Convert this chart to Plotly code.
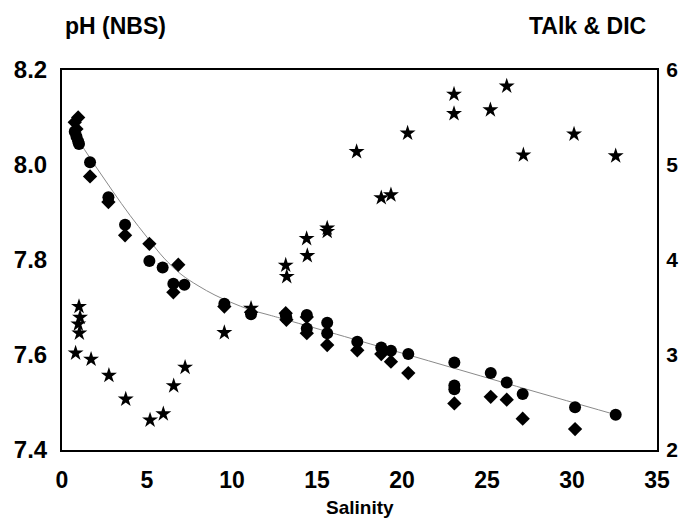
import plotly.graph_objects as go

# pH (NBS), left axis (stars)
ph_sal = [1.0, 1.06, 0.96, 1.02, 0.8, 1.71, 2.76, 3.75, 5.18, 5.96, 6.57, 7.24, 9.55, 11.12,
          13.16, 13.22, 14.39, 14.43, 15.6, 15.6, 17.33, 18.78, 19.35, 20.33, 23.06, 23.06,
          25.2, 26.16, 27.14, 30.12, 32.57]
ph_val = [7.702, 7.679, 7.665, 7.646, 7.604, 7.591, 7.557, 7.507, 7.463, 7.476, 7.535, 7.574,
          7.647, 7.698, 7.789, 7.765, 7.845, 7.809, 7.867, 7.860, 8.028, 7.931, 7.937, 8.067,
          8.149, 8.108, 8.116, 8.166, 8.021, 8.065, 8.019]

# TAlk (circles), right axis
talk_sal = [0.75, 0.85, 0.95, 1.0, 1.65, 2.73, 3.71, 5.14, 5.92, 6.55, 7.2, 9.55, 11.12, 13.16,
            13.2, 14.4, 14.4, 15.6, 15.6, 17.37, 18.78, 19.35, 20.37, 23.08, 23.08, 23.08,
            25.22, 26.16, 27.1, 30.18, 32.57]
talk_val = [5.35, 5.3, 5.25, 5.22, 5.03, 4.66, 4.37, 3.99, 3.92, 3.75, 3.74, 3.54, 3.43, 3.42,
            3.39, 3.42, 3.28, 3.34, 3.23, 3.14, 3.08, 3.045, 3.01, 2.92, 2.68, 2.64,
            2.81, 2.71, 2.59, 2.45, 2.37]

# DIC (diamonds), right axis
dic_sal = [0.95, 0.75, 0.85, 1.65, 2.73, 3.71, 5.14, 6.84, 6.55, 9.55, 11.12, 13.16, 13.2,
           14.4, 14.4, 15.6, 17.37, 18.78, 19.35, 20.37, 23.08, 25.22, 26.16, 27.1, 30.18]
dic_val = [5.5, 5.45, 5.38, 4.88, 4.61, 4.26, 4.17, 3.95, 3.66, 3.51, 3.45, 3.44, 3.37,
           3.40, 3.23, 3.105, 3.05, 3.01, 2.93, 2.81, 2.49, 2.56, 2.53, 2.33, 2.22]

# fitted mixing curve (right axis)
fit_sal = [1.0, 2.0, 3.0, 4.0, 5.0, 6.0, 7.0, 8.0, 9.0, 10.0, 11.0, 12.0, 13.0, 20.0, 26.16, 32.6]
fit_val = [5.25, 4.98, 4.72, 4.47, 4.24, 4.02, 3.85, 3.73, 3.63, 3.55, 3.48, 3.43, 3.38,
           3.02, 2.70, 2.37]

x_ticks = [0, 5, 10, 15, 20, 25, 30, 35]
ph_ticks = [7.4, 7.6, 7.8, 8.0, 8.2]
ph_ticktext = ["7.4", "7.6", "7.8", "8.0", "8.2"]
alk_ticks = [2, 3, 4, 5, 6]

FONT = "Liberation Sans, Arial, sans-serif"

fig = go.Figure()
fig.add_trace(go.Scatter(x=fit_sal, y=fit_val, yaxis="y2", mode="lines",
                         line=dict(color="#8a8a8a", width=1, shape="spline"),
                         showlegend=False, hoverinfo="skip"))
fig.add_trace(go.Scatter(x=talk_sal, y=talk_val, yaxis="y2", mode="markers",
                         marker=dict(symbol="circle", size=12, color="black"),
                         showlegend=False))
fig.add_trace(go.Scatter(x=dic_sal, y=dic_val, yaxis="y2", mode="markers",
                         marker=dict(symbol="diamond", size=11, color="black"),
                         showlegend=False))
fig.add_trace(go.Scatter(x=ph_sal, y=ph_val, yaxis="y", mode="markers",
                         marker=dict(symbol="star", size=12, color="black"),
                         showlegend=False))

fig.update_layout(
    width=687, height=511,
    margin=dict(l=54, r=38, t=62, b=69, autoexpand=False),
    paper_bgcolor="white", plot_bgcolor="white",
    font=dict(family=FONT, color="black"),
    xaxis=dict(range=[0, 35], tickvals=x_ticks, showgrid=False, zeroline=False,
               showline=True, linecolor="black", linewidth=2, mirror=True,
               ticks="", ticklabelstandoff=8,
               tickfont=dict(family=FONT, size=23, weight="bold", color="black")),
    yaxis=dict(range=[7.4, 8.2], tickvals=ph_ticks, ticktext=ph_ticktext,
               showgrid=False, zeroline=False,
               showline=True, linecolor="black", linewidth=2,
               ticks="", ticklabelstandoff=8,
               tickfont=dict(family=FONT, size=24, weight="bold", color="black")),
    yaxis2=dict(range=[2, 6], tickvals=alk_ticks, overlaying="y", side="right",
                showgrid=False, zeroline=False,
                showline=True, linecolor="black", linewidth=2,
                ticks="", ticklabelstandoff=3,
                tickfont=dict(family=FONT, size=21, weight="bold", color="black")),
    annotations=[
        dict(text="pH (NBS)", xref="paper", yref="paper", x=0.002, y=1.1158,
             xanchor="left", yanchor="middle", showarrow=False,
             font=dict(family=FONT, size=23, weight="bold", color="black")),
        dict(text="TAlk & DIC", xref="paper", yref="paper", x=0.985, y=1.1158,
             xanchor="right", yanchor="middle", showarrow=False,
             font=dict(family=FONT, size=23, weight="bold", color="black")),
        dict(text="Salinity", xref="paper", yref="paper", x=0.5, y=-0.1526,
             xanchor="center", yanchor="middle", showarrow=False,
             font=dict(family=FONT, size=19, weight="bold", color="black")),
    ],
)

fig.write_html("out.html")
